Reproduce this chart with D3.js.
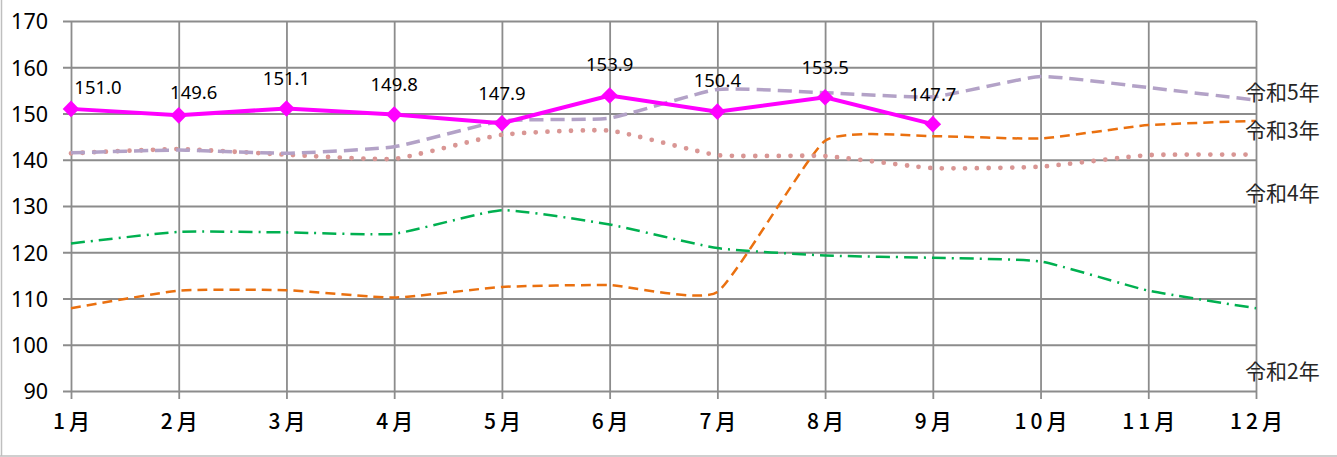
<!DOCTYPE html>
<html>
<head>
<meta charset="utf-8">
<script src="https://cdn.jsdelivr.net/npm/d3@7"></script>
<style>
  body{margin:0;background:#fff;}
  svg{display:block;}
</style>
</head>
<body>
<div id="chart"></div>
<script>
// months and yearly series (令和2〜6年)
const months = ["1月","2月","3月","4月","5月","6月","7月","8月","9月","10月","11月","12月"];
const yTicks = [90,100,110,120,130,140,150,160,170];
const r2 = [121.9,124.4,124.3,124.0,129.1,126.0,120.9,119.3,118.8,118.0,111.7,107.9];
const r3 = [107.9,111.7,111.8,110.2,112.5,112.9,111.4,144.1,145.1,144.6,147.5,148.4];
const r4 = [141.4,142.3,141.1,140.2,145.4,146.3,141.0,140.8,138.2,138.5,141.0,141.1];
const r5 = [141.5,142.1,141.4,142.8,148.4,149.0,155.2,154.5,153.6,158.0,155.6,152.9];
const r6 = [151.0,149.6,151.1,149.8,147.9,153.9,150.4,153.5,147.7];
const seriesNames = ["令和2年","令和3年","令和4年","令和5年"];
// label position of each series name (value on y axis)
const nameAt = [94.1,146.2,132.6,154.6];

const W = 1337, H = 457;
const margin = {top:21, right:81, bottom:66, left:71};

const svg = d3.select("#chart").append("svg")
  .attr("width",W).attr("height",H);

// outer frame (left + bottom only visible)
svg.append("line").attr("x1",1.5).attr("x2",1.5).attr("y1",0).attr("y2",456)
  .attr("stroke","#bfbfbf").attr("stroke-width",1.5);
svg.append("line").attr("x1",0).attr("x2",W).attr("y1",456).attr("y2",456)
  .attr("stroke","#bfbfbf").attr("stroke-width",1.5);

const x = d3.scalePoint().domain(months).range([margin.left, W-margin.right]);
const y = d3.scaleLinear().domain([90,170]).range([H-margin.bottom, margin.top]);

// horizontal grid + y labels
const gy = svg.append("g")
  .attr("transform",`translate(${margin.left},0)`)
  .call(d3.axisLeft(y).tickValues(yTicks).tickSize(-(W-margin.right-margin.left)).tickSizeOuter(0).tickPadding(16));
gy.select(".domain").remove();
gy.selectAll(".tick line").attr("stroke","#8c8c8c").attr("stroke-width",1.8).attr("x1",-8);
gy.selectAll(".tick text").attr("font-family","'Noto Sans',sans-serif").attr("font-size",21.5)
  .attr("fill","#000").attr("dy","0.36em").attr("x",-23);

// vertical grid + x labels
const gx = svg.append("g")
  .attr("transform",`translate(0,${H-margin.bottom})`)
  .call(d3.axisBottom(x).tickSize(-(H-margin.bottom-margin.top)).tickSizeOuter(0).tickPadding(23));
gx.select(".domain").remove();
gx.selectAll(".tick line").attr("stroke","#8c8c8c").attr("stroke-width",1.8).attr("y1",8);
gx.selectAll(".tick text").attr("font-family","'Noto Sans CJK JP',sans-serif").attr("font-size",21)
  .attr("font-weight",500)
  .attr("fill","#000").attr("letter-spacing","4px").attr("dx","2px");

const smooth = d3.line().x((d,i)=>x(months[i])).y(d=>y(d)).curve(d3.curveCardinal.tension(0.55));
const straight = d3.line().x((d,i)=>x(months[i])).y(d=>y(d));

// 令和2年
svg.append("path").attr("d",smooth(r2)).attr("fill","none")
  .attr("stroke","#00b050").attr("stroke-width",2.5).attr("stroke-dasharray","14 6 2 6");
// 令和3年
svg.append("path").attr("d",smooth(r3)).attr("fill","none")
  .attr("stroke","#ea700f").attr("stroke-width",2.5).attr("stroke-dasharray","10 6");
// 令和4年
svg.append("path").attr("d",smooth(r4)).attr("fill","none")
  .attr("stroke","#d99694").attr("stroke-width",4.8).attr("stroke-linecap","round")
  .attr("stroke-dasharray","0 11.7");
// 令和5年
svg.append("path").attr("d",smooth(r5)).attr("fill","none")
  .attr("stroke","#b3a2c7").attr("stroke-width",3.5).attr("stroke-dasharray","14 7");

// 令和6年 (current year)
svg.append("path").attr("d",straight(r6)).attr("fill","none")
  .attr("stroke","#ff00ff").attr("stroke-width",4);
svg.selectAll(".pt").data(r6).enter().append("path")
  .attr("class","pt")
  .attr("d",d3.symbol().type(d3.symbolDiamond2).size(175))
  .attr("transform",(d,i)=>`translate(${x(months[i])},${y(d)})`)
  .attr("fill","#ff00ff");

// data labels; first two were nudged in the original
const labelDx = [27,15,0,0,0,0,0,0,0];
const labelDy = [-21,-23,-30,-30,-30,-31,-31,-30,-30];
svg.selectAll(".lbl").data(r6).enter().append("text")
  .attr("class","lbl")
  .attr("x",(d,i)=>x(months[i])+labelDx[i])
  .attr("y",(d,i)=>y(d)+labelDy[i])
  .attr("dy","0.35em")
  .attr("text-anchor","middle")
  .attr("font-family","'Noto Sans',sans-serif").attr("font-size",18.5)
  .attr("fill","#000")
  .text(d=>d.toFixed(1));

// series names at right
svg.selectAll(".nm").data(seriesNames).enter().append("text")
  .attr("class","nm")
  .attr("x",W-margin.right-11)
  .attr("y",(d,i)=>y(nameAt[i]))
  .attr("dy","0.35em")
  .attr("font-family","'Noto Sans CJK JP',sans-serif").attr("font-size",21)
  .attr("fill","#262626")
  .text(d=>d);
</script>
</body>
</html>
